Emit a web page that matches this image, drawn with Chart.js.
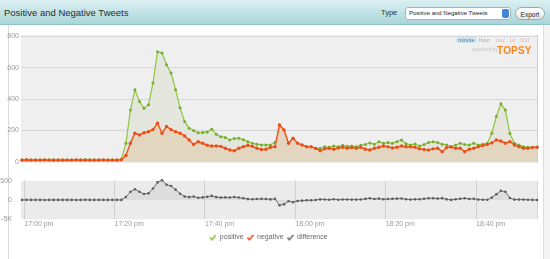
<!DOCTYPE html>
<html>
<head>
<meta charset="utf-8">
<script src="https://cdn.jsdelivr.net/npm/chart.js@4.4.0/dist/chart.umd.min.js"></script>
<style>
  body { margin: 0; width: 550px; height: 259px; overflow: hidden; background: #fff; position: relative;
         font-family: "Liberation Sans", Arial, sans-serif; }
  .abs { position: absolute; }
  #header { left: 0; top: 0; width: 550px; height: 24px; background: linear-gradient(#dcf0f2, #a9d5d9);
            border-bottom: 1px solid #8fc1c6; }
  #title { left: 4px; top: 7px; font-size: 9.5px; color: #2e2e2e; }
  #typeLbl { left: 381px; top: 8px; font-size: 7.5px; color: #333; }
  #select { left: 405px; top: 7px; width: 104px; height: 11px; background: #fff; border: 1px solid #a8b4b8;
            border-radius: 3px; font-size: 6px; color: #222; line-height: 11px; padding-left: 3px; box-sizing: border-box; width: 106px; height: 13px; }
  #spin { right: 1px; top: 1px; width: 7px; height: 9px; background: #3f86db; border-radius: 2px; }
  #export { left: 515px; top: 7px; width: 30px; height: 13px; border: 1px solid #9aa; border-radius: 7px;
            background: linear-gradient(#fff, #e8e8e8); font-size: 6.5px; color: #222; text-align: center;
            line-height: 13px; box-sizing: border-box; }
  #leftEdge { left: 8px; top: 25px; width: 0; height: 234px; border-left: 1px solid #dcdcdc; }
  #rightEdge { left: 543px; top: 25px; width: 7px; height: 234px; background: #f4f4f4; border-left: 1px solid #dedede; }
  .rng { top: 37px; font-size: 5.5px; color: #e2b9b9; }
  #powered { left: 472px; top: 46px; font-size: 5px; color: #c4c4c4; }
  #topsy { left: 497px; top: 45px; font-size: 10px; font-weight: bold; color: #f5851f; letter-spacing: 0.2px; }
</style>
</head>
<body>
<div id="header" class="abs"></div>
<div id="title" class="abs">Positive and Negative Tweets</div>
<div id="typeLbl" class="abs">Type</div>
<div id="select" class="abs">Positive and Negative Tweets<div id="spin" class="abs"></div></div>
<div id="export" class="abs">Export</div>
<div id="leftEdge" class="abs"></div>
<div id="rightEdge" class="abs"></div>

<canvas id="mainChart" class="abs" style="left:0;top:28px" width="550" height="140"></canvas>
<canvas id="diffChart" class="abs" style="left:0;top:170px" width="550" height="81"></canvas>

<div class="abs rng" style="left:456px;background:#cfe4ef;color:#4d7f9e;border-radius:3px;padding:0 2px">minute</div>
<div class="abs rng" style="left:479px;color:#8fb0c4">hour</div>
<div class="abs rng" style="left:496px">day</div>
<div class="abs rng" style="left:509px">1d</div>
<div class="abs rng" style="left:520px">30d</div>
<div id="powered" class="abs">powered by</div>
<div id="topsy" class="abs">TOPSY</div>

<script>
const timeLabels = ["17:00 pm", "17:20 pm", "17:40 pm", "18:00 pm", "18:20 pm", "18:40 pm"];
const seriesNames = ["positive", "negative", "difference"];
const mainTicks = [0, 200, 400, 600, 800];
const diffTickValues = [500, 0, -500];
const diffTickLabels = ["500", "0", "-5K"];

// tweets per minute, one sample per minute starting just before 17:00
const positive = [
  12, 14, 12, 12, 13, 12, 12, 12, 12, 13, 12, 12, 12, 12, 14, 12, 12, 12, 13, 12, 12, 12, 15,
  118, 330, 460, 385, 342, 364, 503, 702, 695, 620, 567, 460, 344, 257, 214, 199,
  185, 186, 190, 208, 175, 160, 155, 139, 148, 150, 140, 128, 118, 112, 107, 107, 107, 125,
  100, 90, 86, 92, 92, 90, 90, 88, 86, 86,
  95, 92, 100, 96, 105, 98, 100, 96, 105, 110, 120, 112, 128, 118, 122, 118, 128, 139, 115,
  107, 113, 100, 110, 122, 128, 122, 112, 107, 96, 107, 118, 110, 107, 118, 107, 112, 118,
  182, 289, 370, 330, 180, 118, 107, 96, 92, 92, 92
];
const negative = [
  10, 11, 10, 10, 10, 11, 10, 9, 10, 10, 10, 10, 11, 10, 10, 10, 10, 10, 11, 10, 10, 10, 12,
  40, 118, 182, 171, 185, 192, 205, 246, 182, 225, 205, 192, 182, 165, 139, 110,
  128, 118, 105, 100, 100, 98, 86, 75, 70, 86, 96, 105, 98, 86, 78, 80, 92, 96,
  235, 203, 118, 150, 118, 107, 96, 96, 85, 70,
  82, 86, 80, 88, 92, 86, 90, 86, 92, 80, 75, 86, 92, 100, 95, 88, 92, 100, 96,
  96, 92, 82, 78, 75, 82, 86, 64, 90, 94, 86, 86, 64, 80, 86, 96, 104, 110,
  120, 139, 132, 118, 128, 107, 96, 86, 86, 90, 92
];
const difference = [
  2, 3, 2, 2, 3, 1, 2, 3, 2, 3, 2, 2, 1, 2, 4, 2, 2, 2, 2, 2, 2, 2, 3,
  78, 212, 278, 214, 157, 172, 298, 456, 513, 395, 362, 268, 162, 92, 75, 89,
  57, 68, 85, 108, 75, 62, 69, 64, 78, 64, 44, 23, 20, 26, 29, 27, 15, 29,
  -135, -113, -32, -58, -26, -17, -6, -8, 1, 16,
  13, 6, 20, 8, 13, 12, 10, 10, 13, 30, 45, 26, 36, 18, 27, 30, 36, 39, 19,
  11, 21, 18, 32, 47, 46, 36, 48, 17, 2, 21, 32, 46, 27, 32, 11, 8, 8,
  62, 150, 238, 212, 52, 11, 11, 10, 6, 2, 0
];

// minutes after 17:00 for each sample
const minutes = positive.map((v, i) => i - 0.5);
const toPoints = arr => arr.map((v, i) => ({ x: minutes[i], y: v }));

const X_MIN = -0.72, X_MAX = 113.5;
const tickFont = { family: "Liberation Sans, Arial", size: 7 };

const panelBg = {
  id: "panelBg",
  beforeDraw(chart, args, opts) {
    const { ctx, chartArea: a } = chart;
    ctx.save();
    ctx.fillStyle = opts.color;
    ctx.fillRect(a.left, a.top - opts.extra, a.right - a.left, a.bottom - a.top + 2 * opts.extra);
    ctx.strokeStyle = opts.border;
    ctx.lineWidth = 1;
    ctx.beginPath();
    ctx.moveTo(a.right + 0.5, a.top - opts.extra);
    ctx.lineTo(a.right + 0.5, a.bottom + opts.extra);
    ctx.stroke();
    ctx.restore();
  }
};

new Chart(document.getElementById("mainChart"), {
  type: "line",
  data: {
    datasets: [
      {
        label: seriesNames[1],
        data: toPoints(negative),
        borderColor: "#f0561f",
        backgroundColor: "#e3d6c0",
        pointBackgroundColor: "#ea4f18",
        pointBorderWidth: 0,
        pointRadius: 1.7,
        borderWidth: 1.5,
        fill: "origin",
        tension: 0,
        clip: 4
      },
      {
        label: seriesNames[0],
        data: toPoints(positive),
        borderColor: "#8cc63f",
        backgroundColor: "#e4e5dc",
        pointBackgroundColor: "#77ad2e",
        pointBorderWidth: 0,
        pointRadius: 1.5,
        borderWidth: 1.2,
        fill: "origin",
        tension: 0,
        clip: 4
      }
    ]
  },
  options: {
    responsive: false,
    animation: false,
    layout: { padding: { top: 8.5, bottom: 6.3, right: 13, left: 0 } },
    plugins: {
      legend: { display: false },
      tooltip: { enabled: false },
      panelBg: { color: "#efefef", extra: 1.5, border: "#cfcfcf" }
    },
    scales: {
      x: { type: "linear", min: X_MIN, max: X_MAX, display: false },
      y: {
        min: 0, max: 800,
        afterFit: s => { s.width = 21; },
        afterBuildTicks: s => { s.ticks = mainTicks.map(v => ({ value: v })); },
        border: { display: false },
        grid: { color: "#d6d6d6", drawTicks: false },
        ticks: { font: tickFont, color: "#999", padding: 2 }
      }
    }
  },
  plugins: [panelBg]
});

function checkIcon(color) {
  const c = document.createElement("canvas");
  c.width = 7; c.height = 7;
  const g = c.getContext("2d");
  g.strokeStyle = color;
  g.lineWidth = 1.6;
  g.beginPath();
  g.moveTo(0.8, 3.6); g.lineTo(2.8, 5.8); g.lineTo(6.5, 1);
  g.stroke();
  return c;
}
const legendColors = ["#8cc63f", "#f0561f", "#777777"];
const icons = legendColors.map(checkIcon);

new Chart(document.getElementById("diffChart"), {
  type: "line",
  data: {
    datasets: [{
      label: seriesNames[2],
      data: toPoints(difference),
      borderColor: "#6f6f6f",
      backgroundColor: "rgba(120,120,120,0.12)",
      pointBackgroundColor: "#5e5e5e",
      pointBorderWidth: 0,
      pointRadius: 1.3,
      borderWidth: 1,
      fill: "origin",
      tension: 0,
      clip: 4
    }]
  },
  options: {
    responsive: false,
    animation: false,
    layout: { padding: { top: 10.7, bottom: 0, right: 13, left: 0 } },
    plugins: {
      tooltip: { enabled: false },
      panelBg: { color: "#ebebeb", extra: 0, border: "#d6d6d6" },
      legend: {
        position: "bottom",
        labels: {
          usePointStyle: true,
          font: { family: "Liberation Sans, Arial", size: 7 },
          color: "#666",
          padding: 3,
          generateLabels: () => seriesNames.map((name, i) => ({
            text: name, pointStyle: icons[i], fontColor: "#666", hidden: false,
            datasetIndex: i, lineWidth: 0, strokeStyle: "transparent", fillStyle: "transparent"
          }))
        }
      }
    },
    scales: {
      x: {
        type: "linear", min: X_MIN, max: X_MAX,
        afterFit: s => { s.height = 11.7; s.paddingLeft = 0; s.paddingRight = 0; },
        border: { display: false },
        grid: { color: "#d0d0d0", drawTicks: false },
        ticks: {
          stepSize: 20, includeBounds: false, align: "start", maxRotation: 0, autoSkip: false,
          font: tickFont, color: "#999", padding: 1,
          callback: v => (v % 20 === 0 && v / 20 < timeLabels.length) ? timeLabels[v / 20] : null
        }
      },
      y: {
        min: -500, max: 500,
        afterFit: s => { s.width = 21; },
        afterBuildTicks: s => { s.ticks = diffTickValues.map(v => ({ value: v })); },
        border: { display: false },
        grid: { display: false },
        ticks: {
          font: tickFont, color: "#999", padding: 1,
          callback: v => diffTickLabels[diffTickValues.indexOf(v)]
        }
      }
    }
  },
  plugins: [panelBg]
});
</script>
</body>
</html>
